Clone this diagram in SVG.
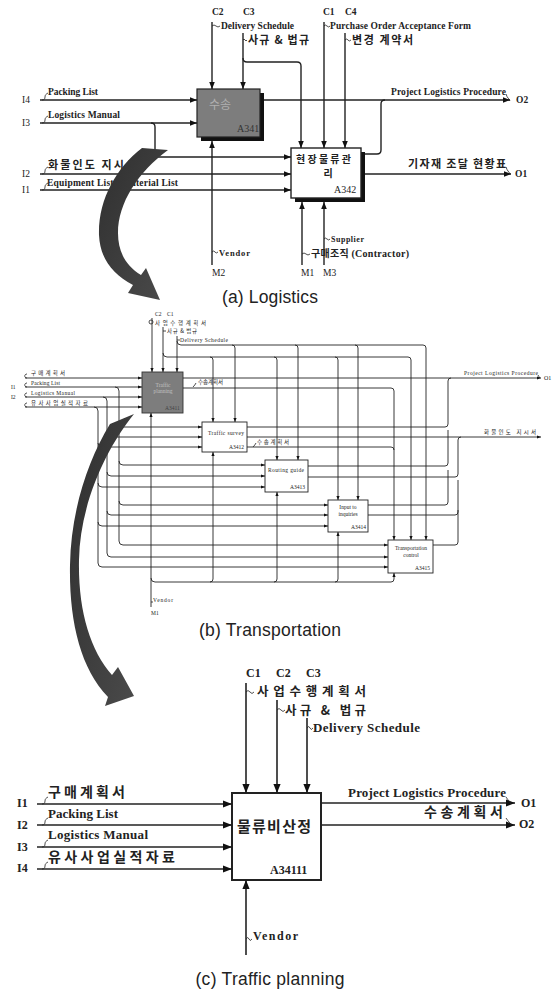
<svg xmlns="http://www.w3.org/2000/svg" width="552" height="989" viewBox="0 0 552 989">
<defs>
<marker id="ha" viewBox="0 0 10 10" refX="10" refY="5" markerWidth="7" markerHeight="7" markerUnits="userSpaceOnUse" orient="auto"><path d="M0,1 L10,5 L0,9 z" fill="#111"/></marker>
<marker id="hb" viewBox="0 0 10 10" refX="10" refY="5" markerWidth="4" markerHeight="4" markerUnits="userSpaceOnUse" orient="auto"><path d="M0,1 L10,5 L0,9 z" fill="#111"/></marker>
<marker id="hc" viewBox="0 0 10 10" refX="10" refY="5" markerWidth="10" markerHeight="9" markerUnits="userSpaceOnUse" orient="auto"><path d="M0,1 L10,5 L0,9 z" fill="#111"/></marker>
<linearGradient id="ga" x1="0" y1="0" x2="1" y2="1"><stop offset="0" stop-color="#2f2f2f"/><stop offset="1" stop-color="#4a4a4a"/></linearGradient>
</defs>
<style>
.la{stroke:#222;stroke-width:1.4;fill:none}
.lb{stroke:#222;stroke-width:0.9;fill:none}
.lc{stroke:#222;stroke-width:1.6;fill:none}
.sq{stroke:#222;stroke-width:0.8;fill:none}
.ta{font-family:"Liberation Serif","Noto Sans CJK KR",serif;font-size:9.5px;font-weight:bold;fill:#222}
.ka{font-family:"Noto Sans CJK KR","Liberation Serif",sans-serif;font-size:11px;font-weight:bold;fill:#222}
.tb{font-family:"Liberation Serif","Noto Sans CJK KR",serif;font-size:5.5px;fill:#222}
.kb{font-family:"Noto Sans CJK KR",sans-serif;font-size:5.5px;fill:#222}
.tc{font-family:"Liberation Serif","Noto Sans CJK KR",serif;font-size:13px;font-weight:bold;fill:#222}
.kc{font-family:"Noto Sans CJK KR",sans-serif;font-size:14px;font-weight:bold;fill:#222}
.cap{font-family:"Liberation Sans",Arial,sans-serif;font-size:17.5px;fill:#222}
.bw{fill:#fff;stroke:#222}
.arr{fill:url(#ga)}
</style>
<rect width="552" height="989" fill="#fff"/>

<!-- ================= (a) Logistics ================= -->
<g id="A341">
<rect x="201" y="93" width="63" height="48" fill="#111"/>
<rect x="197" y="89" width="63" height="48" fill="#7d7d7d" stroke="#222" stroke-width="1.2"/>
<text x="220" y="109" text-anchor="middle" style="font-family:'Noto Sans CJK KR',sans-serif;font-size:12px;fill:#b0b0b0">수송</text>
<text x="237" y="132" style="font-family:'Liberation Serif',serif;font-size:10px;fill:#333">A341</text>
</g>
<g id="A342">
<rect x="295" y="152" width="70" height="50" fill="#111"/>
<rect x="291" y="148" width="70" height="50" class="bw" stroke-width="1.4"/>
<text x="296" y="163" class="ka" style="font-size:10px" textLength="55">현장물류관</text>
<text x="328" y="177" class="ka" style="font-size:10px" text-anchor="middle">리</text>
<text x="334" y="193" class="ta" style="font-weight:normal;font-size:10px">A342</text>
</g>

<g id="connectors-a">
<path class="la" d="M40,100 H197" marker-end="url(#ha)"/>
<path class="la" d="M40,123 H197" marker-end="url(#ha)"/>
<path class="la" d="M151,123 Q155,123 155,127 V153 Q155,157 159,157 H291" marker-end="url(#ha)"/>
<path class="la" d="M40,174 H291" marker-end="url(#ha)"/>
<path class="la" d="M40,190 H291" marker-end="url(#ha)"/>
<path class="la" d="M212,22 V89" marker-end="url(#ha)"/>
<path class="la" d="M243,33 V89" marker-end="url(#ha)"/>
<path class="la" d="M243,58 Q243,62 247,62 H297 Q301,62 301,66 V148" marker-end="url(#ha)"/>
<path class="la" d="M324,22 V148" marker-end="url(#ha)"/>
<path class="la" d="M345,33 V148" marker-end="url(#ha)"/>
<path class="la" d="M212,265 V141" marker-end="url(#ha)"/>
<path class="la" d="M302,265 V202" marker-end="url(#ha)"/>
<path class="la" d="M324,265 V202" marker-end="url(#ha)"/>
<path class="la" d="M264,100 H510" marker-end="url(#ha)"/>
<path class="la" d="M365,154 H377 Q381,154 381,150 V104 Q381,100 385,100"/>
<path class="la" d="M365,174 H511" marker-end="url(#ha)"/>
<path class="sq" d="M42,100 c2,0 3,-1 3,-3 s1,-3 3,-4"/>
<path class="sq" d="M42,123 c2,0 3,-1 3,-3 s1,-3 3,-4"/>
<path class="sq" d="M42,174 c2,0 3,-1 3,-3 s1,-3 3,-4"/>
<path class="sq" d="M42,190 c2,0 3,-1 3,-3 s1,-3 3,-4"/>
<path class="sq" d="M212,26 q2,-2 4,0 t4,0"/>
<path class="sq" d="M243,40 q1,-2 2,0 t2,0"/>
<path class="sq" d="M324,26 q1,-2 3,0 t3,0"/>
<path class="sq" d="M345,40 q2,-2 3,0 t3,0"/>
<path class="sq" d="M212,252 q2,-2 3,0 t3,0"/>
<path class="sq" d="M302,254 q2,-2 4,0 t4,0"/>
<path class="sq" d="M324,239 q1,-2 3,0 t3,0"/>
<path class="sq" d="M506,94 q1,3 2,4 t2,3"/>
<path class="sq" d="M506,167 q1,3 2,4 t2,3"/>
</g>

<g id="labels-a">
<text x="212" y="15" class="ta">C2</text>
<text x="243" y="15" class="ta">C3</text>
<text x="323" y="15" class="ta">C1</text>
<text x="345" y="15" class="ta">C4</text>
<text x="221" y="29" class="ta" textLength="73">Delivery Schedule</text>
<text x="248" y="44" class="ka" textLength="61">사규 &amp; 법규</text>
<text x="330" y="29" class="ta" textLength="141">Purchase Order Acceptance Form</text>
<text x="352" y="44" class="ka" textLength="61">변경 계약서</text>
<text x="22" y="103" class="ta" style="font-weight:normal">I4</text>
<text x="22" y="126" class="ta" style="font-weight:normal">I3</text>
<text x="22" y="177" class="ta" style="font-weight:normal">I2</text>
<text x="22" y="193" class="ta" style="font-weight:normal">I1</text>
<text x="48" y="95" class="ta" textLength="50">Packing List</text>
<text x="48" y="118" class="ta" textLength="72">Logistics Manual</text>
<text x="48" y="169" class="ka" textLength="88">화물인도 지시서</text>
<text x="47" y="186" class="ta" textLength="131">Equipment List / Material List</text>
<text x="391" y="95" class="ta" textLength="115">Project Logistics Procedure</text>
<text x="516" y="103" class="ta">O2</text>
<text x="408" y="168" class="ka" textLength="98">기자재 조달 현황표</text>
<text x="515" y="177" class="ta">O1</text>
<text x="331" y="242" class="ta" style="font-size:8px" textLength="33">Supplier</text>
<text x="311" y="257" class="ka" style="font-size:10px" textLength="98">구매조직 <tspan style="font-family:'Liberation Serif',serif">(Contractor)</tspan></text>
<text x="219" y="256" class="ta" style="font-size:8.5px" textLength="31">Vendor</text>
<text x="301" y="276" class="ta" style="font-weight:normal">M1</text>
<text x="323" y="276" class="ta" style="font-weight:normal">M3</text>
<text x="212" y="276" class="ta" style="font-weight:normal">M2</text>
</g>

<path id="curve-a" class="arr" d="M142,148 L168,150 C138,172 118,203 118,233 C118,252 126,266 141,275 L146,268 L160,300 L128,293 L133,285 C112,274 100,258 99,235 C98,200 116,168 142,148 Z"/>
<text x="270" y="303" class="cap" text-anchor="middle" textLength="96">(a) Logistics</text>

<!-- ================= (b) Transportation ================= -->
<g id="A3411">
<rect x="142" y="372" width="41" height="41" fill="#7d7d7d" stroke="#333" stroke-width="0.9"/>
<text x="163" y="387" class="tb" text-anchor="middle" style="fill:#c0c0c0">Traffic</text>
<text x="163" y="393" class="tb" text-anchor="middle" style="fill:#c0c0c0">planning</text>
<text x="165" y="410" class="tb" style="fill:#444">A3411</text>
</g>
<g id="A3412">
<rect x="202" y="422" width="45" height="30" class="bw" stroke-width="0.9"/>
<text x="208" y="435" class="tb" textLength="36">Traffic survey</text>
<text x="229" y="449" class="tb">A3412</text>
</g>
<g id="A3413">
<rect x="265" y="460" width="43" height="32" class="bw" stroke-width="0.9"/>
<text x="268" y="472" class="tb" textLength="36">Routing guide</text>
<text x="290" y="489" class="tb">A3413</text>
</g>
<g id="A3414">
<rect x="328" y="500" width="40" height="32" class="bw" stroke-width="0.9"/>
<text x="348" y="509" class="tb" text-anchor="middle">Input to</text>
<text x="348" y="516" class="tb" text-anchor="middle">inquiries</text>
<text x="351" y="529" class="tb">A3414</text>
</g>
<g id="A3415">
<rect x="388" y="540" width="45" height="33" class="bw" stroke-width="0.9"/>
<text x="411" y="550" class="tb" text-anchor="middle">Transportation</text>
<text x="411" y="557" class="tb" text-anchor="middle">control</text>
<text x="415" y="570" class="tb">A3415</text>
</g>

<g id="connectors-b">
<path class="lb" d="M152,318 V372" marker-end="url(#hb)"/>
<path class="lb" d="M163,327 V372" marker-end="url(#hb)"/>
<path class="lb" d="M177,336 V372" marker-end="url(#hb)"/>
<path class="lb" d="M163,353 Q163,357 167,357 H408 Q411,357 411,360 V540" marker-end="url(#hb)"/>
<path class="lb" d="M210,357 Q213,357 213,360 V422" marker-end="url(#hb)"/>
<path class="lb" d="M274,357 Q277,357 277,360 V460" marker-end="url(#hb)"/>
<path class="lb" d="M335,357 Q338,357 338,360 V500" marker-end="url(#hb)"/>
<path class="lb" d="M177,341 Q177,345 181,345 H423 Q426,345 426,348 V540" marker-end="url(#hb)"/>
<path class="lb" d="M232,345 Q235,345 235,348 V422" marker-end="url(#hb)"/>
<path class="lb" d="M295,345 Q298,345 298,348 V460" marker-end="url(#hb)"/>
<path class="lb" d="M355,345 Q358,345 358,348 V500" marker-end="url(#hb)"/>
<path class="lb" d="M25,378 H142" marker-end="url(#hb)"/>
<path class="lb" d="M25,387 H142" marker-end="url(#hb)"/>
<path class="lb" d="M25,397 H142" marker-end="url(#hb)"/>
<path class="lb" d="M25,407 H142" marker-end="url(#hb)"/>
<path class="lb" d="M115,387 Q119,387 119,391 V541 Q119,545 123,545 H388" marker-end="url(#hb)"/>
<path class="lb" d="M103,397 Q107,397 107,401 V553 Q107,557 111,557 H388" marker-end="url(#hb)"/>
<path class="lb" d="M94,407 Q98,407 98,411 V563 Q98,567 102,567 H388" marker-end="url(#hb)"/>
<path class="lb" d="M119,423 Q119,427 123,427 H202" marker-end="url(#hb)"/>
<path class="lb" d="M107,433 Q107,437 111,437 H202" marker-end="url(#hb)"/>
<path class="lb" d="M98,443 Q98,447 102,447 H202" marker-end="url(#hb)"/>
<path class="lb" d="M119,461 Q119,465 123,465 H265" marker-end="url(#hb)"/>
<path class="lb" d="M107,472 Q107,476 111,476 H265" marker-end="url(#hb)"/>
<path class="lb" d="M98,483 Q98,487 102,487 H265" marker-end="url(#hb)"/>
<path class="lb" d="M119,501 Q119,505 123,505 H328" marker-end="url(#hb)"/>
<path class="lb" d="M107,511 Q107,515 111,515 H328" marker-end="url(#hb)"/>
<path class="lb" d="M98,522 Q98,526 102,526 H328" marker-end="url(#hb)"/>
<path class="lb" d="M183,378 H541" marker-end="url(#hb)"/>
<path class="lb" d="M183,388 H391 Q394,388 394,391 V540" marker-end="url(#hb)"/>
<path class="lb" d="M247,427 H445 Q448,427 448,424 V381 Q448,378 451,378"/>
<path class="lb" d="M247,437 H541" marker-end="url(#hb)"/>
<path class="lb" d="M247,447 H391 Q394,447 394,450"/>
<path class="lb" d="M308,466 H445 Q448,466 448,463 V430"/>
<path class="lb" d="M308,477 H455 Q458,477 458,474 V440 Q458,437 461,437"/>
<path class="lb" d="M368,505 H445 Q448,505 448,502 V470"/>
<path class="lb" d="M368,515 H455 Q458,515 458,512 V480"/>
<path class="lb" d="M433,545 H455 Q458,545 458,542 V510"/>
<path class="lb" d="M151,607 V413" marker-end="url(#hb)"/>
<path class="lb" d="M151,578 Q151,582 155,582 H391 Q394,582 394,579 V573" marker-end="url(#hb)"/>
<path class="lb" d="M210,582 Q213,582 213,579 V452" marker-end="url(#hb)"/>
<path class="lb" d="M274,582 Q277,582 277,579 V492" marker-end="url(#hb)"/>
<path class="lb" d="M335,582 Q338,582 338,579 V532" marker-end="url(#hb)"/>
<path class="sq" d="M27,378 c-3,0 -3,-4 0,-4 M27,387 c-3,0 -3,-4 0,-4 M27,397 c-3,0 -3,-4 0,-4 M27,407 c-3,0 -3,-4 0,-4" stroke-width="0.6"/>
<circle cx="151" cy="322" r="2" class="sq" stroke-width="0.6"/>
<path class="sq" stroke-width="0.6" d="M163,331 h3 M177,340 h3 M151,602 h2 M193,387 q2,-2 3,-4 M253,447 q2,-2 3,-4 M538,375 q1,2 2,3"/>
</g>

<g id="labels-b">
<text x="155" y="316" class="tb">C2</text>
<text x="167" y="316" class="tb">C1</text>
<text x="155" y="325" class="kb" textLength="51">사업수행계획서</text>
<text x="167" y="333" class="kb" textLength="30">사규 &amp; 법규</text>
<text x="180" y="342" class="tb" textLength="48">Delivery Schedule</text>
<text x="31" y="375" class="kb" textLength="34">구매계획서</text>
<text x="31" y="385" class="tb" textLength="29">Packing List</text>
<text x="31" y="395" class="tb" textLength="44">Logistics Manual</text>
<text x="31" y="405" class="kb" textLength="57">유사사업실적자료</text>
<text x="11" y="389" class="tb">I1</text>
<text x="11" y="399" class="tb">I2</text>
<text x="198" y="384" class="kb" textLength="25">수송계획서</text>
<text x="257" y="444" class="kb" textLength="32">수송계획서</text>
<text x="464" y="375" class="tb" textLength="74">Project Logistics Procedure</text>
<text x="544" y="380" class="tb" style="font-size:6px">O1</text>
<text x="484" y="434" class="kb" textLength="52">화물인도 지시서</text>
<text x="153" y="602" class="tb" textLength="20">Vendor</text>
<text x="151" y="615" class="tb">M1</text>
</g>

<path id="curve-b" class="arr" d="M110,424 L134,414 C105,450 80,505 79,560 C78,610 90,650 112,675 L118,667 L134,696 L105,706 L108,697 C80,668 69,620 70,565 C71,510 88,460 110,424 Z"/>
<text x="270" y="636" class="cap" text-anchor="middle" textLength="142">(b) Transportation</text>

<!-- ================= (c) Traffic planning ================= -->
<g id="A34111">
<rect x="232" y="793" width="89" height="87" class="bw" stroke-width="2"/>
<text x="237" y="832" class="kc" style="font-size:15px" textLength="74">물류비산정</text>
<text x="270" y="874" class="tc" style="font-size:12px">A34111</text>
</g>

<g id="connectors-c">
<path class="lc" d="M246,683 V793" marker-end="url(#hc)"/>
<path class="lc" d="M277,700 V793" marker-end="url(#hc)"/>
<path class="lc" d="M307,718 V793" marker-end="url(#hc)"/>
<path class="lc" d="M37,804 H232" marker-end="url(#hc)"/>
<path class="lc" d="M37,825 H232" marker-end="url(#hc)"/>
<path class="lc" d="M37,847 H232" marker-end="url(#hc)"/>
<path class="lc" d="M37,869 H232" marker-end="url(#hc)"/>
<path class="lc" d="M321,803 H515" marker-end="url(#hc)"/>
<path class="lc" d="M321,825 H515" marker-end="url(#hc)"/>
<path class="lc" d="M246,955 V880" marker-end="url(#hc)"/>
<path class="sq" stroke-width="1" d="M42,804 c2,0 3,-1 3,-3 s1,-3 3,-4 M42,825 c2,0 3,-1 3,-3 s1,-3 3,-4 M42,847 c2,0 3,-1 3,-3 s1,-3 3,-4 M42,869 c2,0 3,-1 3,-3 s1,-3 3,-4"/>
<path class="sq" stroke-width="1" d="M246,692 q2,-3 4,0 t4,0 M277,710 q2,-3 4,0 t4,0 M307,728 q2,-3 3,0 t3,0 M246,939 q2,-3 3,0 t3,0 M506,797 q2,3 3,4 t2,3 M506,818 q2,3 3,4 t2,3"/>
</g>

<g id="labels-c">
<text x="246" y="677" class="tc" style="font-size:12px">C1</text>
<text x="276" y="677" class="tc" style="font-size:12px">C2</text>
<text x="306" y="677" class="tc" style="font-size:12px">C3</text>
<text x="257" y="696" class="kc" style="font-size:12.5px" textLength="109">사업수행계획서</text>
<text x="285" y="715" class="kc" style="font-size:12.5px" textLength="81">사규 &amp; 법규</text>
<text x="313" y="732" class="tc" textLength="107">Delivery Schedule</text>
<text x="17" y="807" class="tc" style="font-size:12px">I1</text>
<text x="17" y="829" class="tc" style="font-size:12px">I2</text>
<text x="17" y="851" class="tc" style="font-size:12px">I3</text>
<text x="17" y="872" class="tc" style="font-size:12px">I4</text>
<text x="48" y="797" class="kc" textLength="77">구매계획서</text>
<text x="48" y="818" class="tc" textLength="70">Packing List</text>
<text x="48" y="839" class="tc" textLength="100">Logistics Manual</text>
<text x="48" y="862" class="kc" textLength="127">유사사업실적자료</text>
<text x="348" y="797" class="tc" textLength="158">Project Logistics Procedure</text>
<text x="424" y="817" class="kc" textLength="79">수송계획서</text>
<text x="521" y="807" class="tc" style="font-size:12px">O1</text>
<text x="519" y="828" class="tc" style="font-size:12px">O2</text>
<text x="253" y="940" class="tc" style="font-size:12px" textLength="45">Vendor</text>
</g>
<text x="270" y="985" class="cap" text-anchor="middle" textLength="149">(c) Traffic planning</text>
</svg>
